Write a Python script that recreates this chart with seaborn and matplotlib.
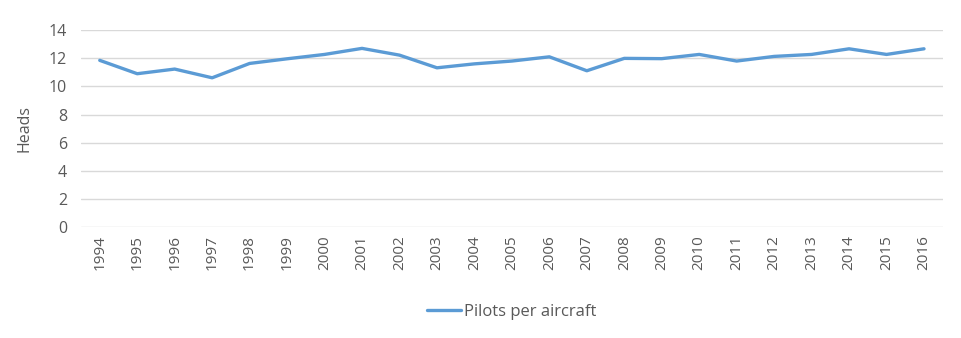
import matplotlib
matplotlib.use("Agg")
import matplotlib.pyplot as plt
import seaborn as sns
import pandas as pd

years = [str(y) for y in range(1994, 2017)]
pilots_per_aircraft = [11.85, 10.9, 11.23, 10.61, 11.63, 11.96, 12.27, 12.7, 12.22,
                       11.32, 11.6, 11.8, 12.1, 11.11, 11.99, 11.97, 12.27, 11.8,
                       12.13, 12.27, 12.67, 12.27, 12.67]
y_ticks = [0, 2, 4, 6, 8, 10, 12, 14]

sns.set_theme(style="white")
plt.rcParams["font.family"] = ["Open Sans", "DejaVu Sans"]
text_color = "#595959"

df = pd.DataFrame({"Year": years, "Heads": pilots_per_aircraft})

fig = plt.figure(figsize=(9.61, 3.38), dpi=100)
ax = fig.add_axes([0.0843, 0.328, 0.8967, 0.583])

sns.lineplot(data=df, x="Year", y="Heads", ax=ax, color="#5B9BD5",
             linewidth=2.4, label="Pilots per aircraft", sort=False)

ax.set_ylim(0, 14)
ax.set_yticks(y_ticks)
ax.set_xlim(-0.5, len(years) - 0.5)
ax.yaxis.grid(True, color="#D9D9D9", linewidth=1)
ax.xaxis.grid(False)
for s in ax.spines.values():
    s.set_visible(False)
ax.tick_params(axis="y", length=0, colors=text_color, labelsize=11.5, pad=10)
ax.tick_params(axis="x", length=0, colors=text_color, labelsize=11, pad=6)
plt.setp(ax.get_xticklabels(), rotation=90)
ax.set_xlabel("")
ax.set_ylabel("Heads", color=text_color, fontsize=11.5, labelpad=12)

ax.legend(loc="center", bbox_to_anchor=(0.5, -0.43), frameon=False,
          fontsize=12, labelcolor=text_color, handlelength=2.0,
          handletextpad=0.2)

fig.savefig("out.png", dpi=100, facecolor="white")
